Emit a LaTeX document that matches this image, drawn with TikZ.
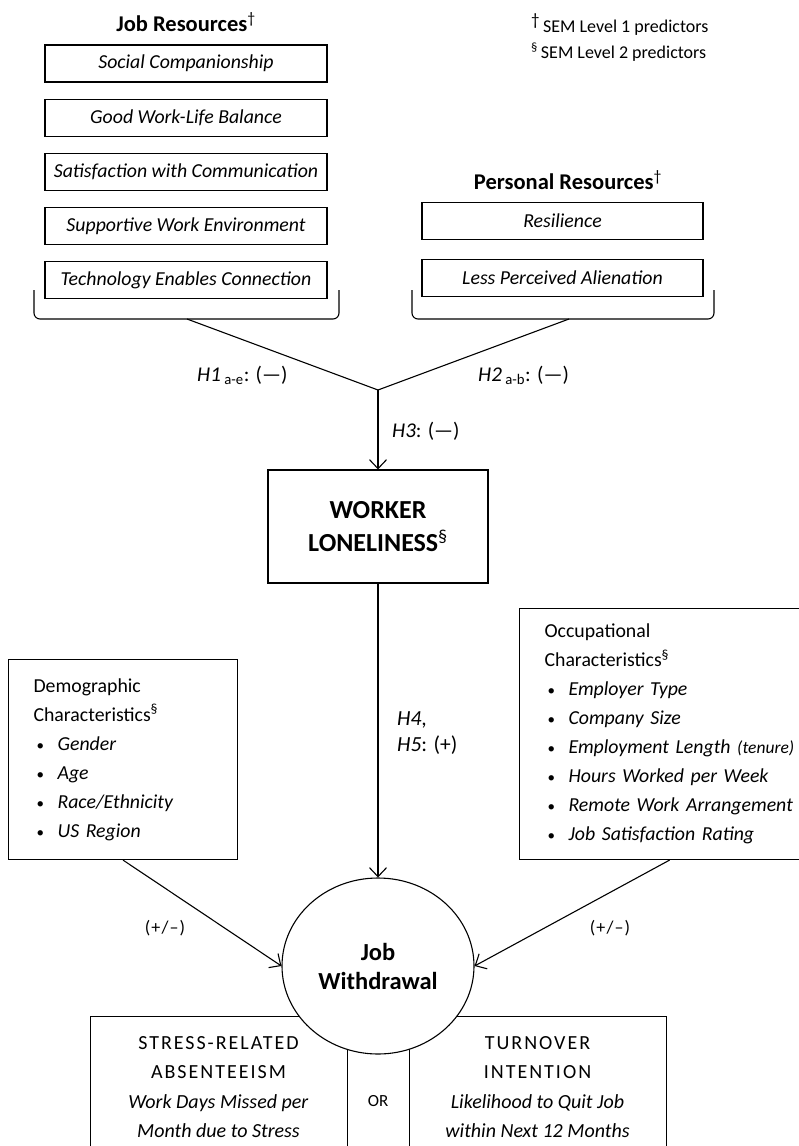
\documentclass[tikz,border=0pt]{standalone}
\usepackage{fontspec}
\setmainfont{Carlito}
\newfontfamily\spacedcaps[LetterSpace=10]{Carlito}
\newfontfamily\widesign[LetterSpace=6]{Carlito}
\usetikzlibrary{arrows.meta,positioning,shapes.geometric}
\newcommand{\listbullet}{\makebox[24pt][l]{\hspace{3pt}{\fontsize{15}{15}\selectfont\textbullet}}}

\begin{document}
\begin{tikzpicture}[x=1pt, y=-1pt,
  font=\fontsize{20.3}{24}\selectfont,
  resbox/.style={draw, line width=1.1pt, minimum width=282pt, minimum height=37pt, inner sep=0pt, font=\fontsize{19.8}{24}\selectfont\itshape},
  headlbl/.style={anchor=base, font=\fontsize{22.5}{26}\selectfont\bfseries},
  listbox/.style={draw, line width=1.1pt, align=left, inner xsep=25pt, inner ysep=0pt, anchor=north west, font=\fontsize{19.8}{29}\selectfont},
  outbox/.style={draw, line width=1.1pt, anchor=north west, minimum height=160pt, inner sep=0pt},
  outtext/.style={align=center, inner sep=0pt, font=\fontsize{20}{29.5}\selectfont},
  hyp/.style={anchor=base west, inner sep=0pt, font=\fontsize{21}{26}\selectfont},
  sign/.style={anchor=base, inner sep=0pt, font=\fontsize{18}{20}\widesign},
  arr/.style={-{Straight Barb[length=9pt,width=17pt]}, line width=1.1pt},
  link/.style={line width=1.1pt}
]
\useasboundingbox (0,0) rectangle (799,1146);
\clip (0,0) rectangle (799,1146);

\node[anchor=base west, inner sep=0pt, font=\fontsize{18}{22}\selectfont] (leg1) at (531,32) {\textsuperscript{\fontsize{17}{17}\selectfont †}\,SEM Level 1 predictors};
\node[anchor=base west, inner sep=0pt, font=\fontsize{18}{22}\selectfont] (leg2) at (531,58) {\textsuperscript{§}\,SEM Level 2 predictors};

\node[headlbl] (jobres) at (186,31) {Job Resources\textsuperscript{\mdseries †}};
\node[resbox] (social) at (186,63.5) {Social Companionship};
\node[resbox, below=16pt of social] (balance) {Good Work-Life Balance};
\node[resbox, below=16pt of balance] (comm) {Satisfaction with Communication};
\node[resbox, below=16pt of comm] (support) {Supportive Work Environment};
\node[resbox, below=16pt of support] (tech) {Technology Enables Connection};

\node[headlbl] (persres) at (568,189) {Personal Resources\textsuperscript{\mdseries †}};
\node[resbox, minimum width=281pt] (resil) at (562.5,221) {Resilience};
\node[resbox, minimum width=281pt, below=19pt of resil] (alien) {Less Perceived Alienation};

\draw[link, rounded corners=6pt] (34,290) -- (34,319) -- (339,319) -- (339,290);
\draw[link, rounded corners=6pt] (412,290) -- (412,319) -- (714,319) -- (714,290);
\coordinate (jobfoot) at (187,319);
\coordinate (persfoot) at (569,319);
\coordinate (merge) at (378,390);

\node[draw, line width=1.1pt, minimum width=220pt, minimum height=113pt, align=center, font=\fontsize{26}{33}\selectfont\bfseries] (lonely) at (378,526.5) {WORKER\\LONELINESS\textsuperscript{\mdseries §}};

\node[listbox, text width=179pt, minimum height=200pt] (demo) at (8,659) {Demographic\\Characteristics\textsuperscript{§}\\
  \listbullet\textit{Gender}\\\listbullet\textit{Age}\\\listbullet\textit{Race/Ethnicity}\\\listbullet\textit{US Region}};
\node[listbox, text width=250pt, minimum height=251pt] (occup) at (519,608) {Occupational\\Characteristics\textsuperscript{§}\\
  \listbullet\textit{Employer Type}\\\listbullet\textit{Company Size}\\
  \listbullet\textit{Employment Length {\fontsize{17.5}{20}\selectfont(tenure)}}\\
  \listbullet\textit{Hours Worked per Week}\\\listbullet\textit{Remote Work Arrangement}\\
  \listbullet\textit{Job Satisfaction Rating}};

\node[outbox, minimum width=257pt] (absent) at (90,1016) {};
\node[outbox, minimum width=62pt] (orbox) at (347,1016) {};
\node[outbox, minimum width=257pt] (turn) at (409,1016) {};
\node[outtext] (absenttext) at (218.5,1087) {{\spacedcaps STRESS-RELATED}\\{\spacedcaps ABSENTEEISM}\\\textit{Work Days Missed per}\\\textit{Month due to Stress}};
\node[outtext] (turntext) at (537.5,1087) {{\spacedcaps TURNOVER}\\{\spacedcaps INTENTION}\\\textit{Likelihood to Quit Job}\\\textit{within Next 12 Months}};
\node[inner sep=0pt, font=\fontsize{17}{20}\selectfont] (ortext) at (378,1101) {OR};

\node[ellipse, draw, fill=white, line width=1.1pt, minimum width=192pt, minimum height=176pt, inner sep=0pt, align=center, font=\fontsize{24.5}{29}\selectfont\bfseries] (withdraw) at (378,966) {Job\\Withdrawal};

\draw[link] (jobfoot) -- (merge);
\draw[link] (persfoot) -- (merge);
\draw[arr] (merge) -- (lonely.north);
\draw[arr] (lonely.south) -- (withdraw.north);
\draw[arr] (demo.south) -- (withdraw.west);
\draw[arr] (occup.south) -- (withdraw.east);

\node[hyp] (hone) at (197,381) {\textit{H1}\,\textsubscript{a-e}: (\textemdash)};
\node[hyp] (htwo) at (478,381) {\textit{H2}\,\textsubscript{a-b}: (\textemdash)};
\node[hyp] (hthree) at (392,437) {\textit{H3}: (\textemdash)};
\node[anchor=west, inner sep=0pt, align=left, font=\fontsize{21.5}{26}\selectfont] (hfour) at (397,733) {\textit{H4},\\\textit{H5}: (+)};
\node[sign] (demosign) at (165,933) {(+/\textendash)};
\node[sign] (occsign) at (610,933) {(+/\textendash)};
\end{tikzpicture}
\end{document}
